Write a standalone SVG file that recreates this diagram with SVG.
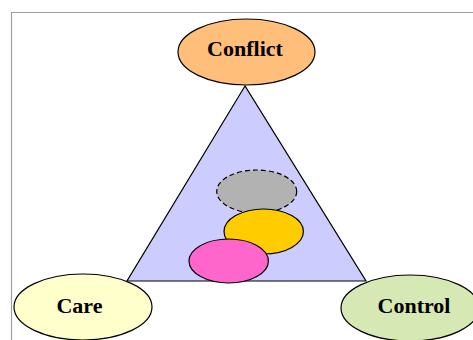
<svg xmlns="http://www.w3.org/2000/svg" width="473" height="340" viewBox="0 0 473 340">
<style>
.lbl{font-family:"Liberation Serif","Times New Roman",serif;font-weight:bold;font-size:22px;text-anchor:middle;fill:#000}
.sh{stroke:#000;stroke-width:1.2}
</style>
<rect x="0" y="0" width="473" height="340" fill="#fff"/>
<path d="M11.5,340 V12.5 H473" fill="none" stroke="#a0a0a0" stroke-width="1.2"/>
<g id="connectors">
<polygon id="triangle" class="sh" points="245,86 127,281 366,281" fill="#ccccff"/>
</g>
<g id="gray"><ellipse class="sh" cx="256.7" cy="191.5" rx="40" ry="21.5" fill="#b2b2b2" stroke-dasharray="5,3" stroke-width="1.8"/></g>
<g id="yellow"><ellipse class="sh" cx="263.7" cy="231.5" rx="39.7" ry="22.5" fill="#ffcc00"/></g>
<g id="pink"><ellipse class="sh" cx="228.7" cy="261" rx="39.7" ry="22" fill="#ff66cc"/></g>
<g id="conflict">
<ellipse class="sh" cx="246.5" cy="52" rx="68.5" ry="33" fill="#ffbf7a"/>
<text class="lbl" x="245" y="56">Conflict</text>
</g>
<g id="care">
<ellipse class="sh" cx="83" cy="307" rx="69" ry="33" fill="#ffffcc"/>
<text class="lbl" x="79.5" y="313">Care</text>
</g>
<g id="control">
<ellipse class="sh" cx="410" cy="308" rx="69" ry="33" fill="#d6e8b4"/>
<text class="lbl" x="414" y="313">Control</text>
</g>
</svg>
